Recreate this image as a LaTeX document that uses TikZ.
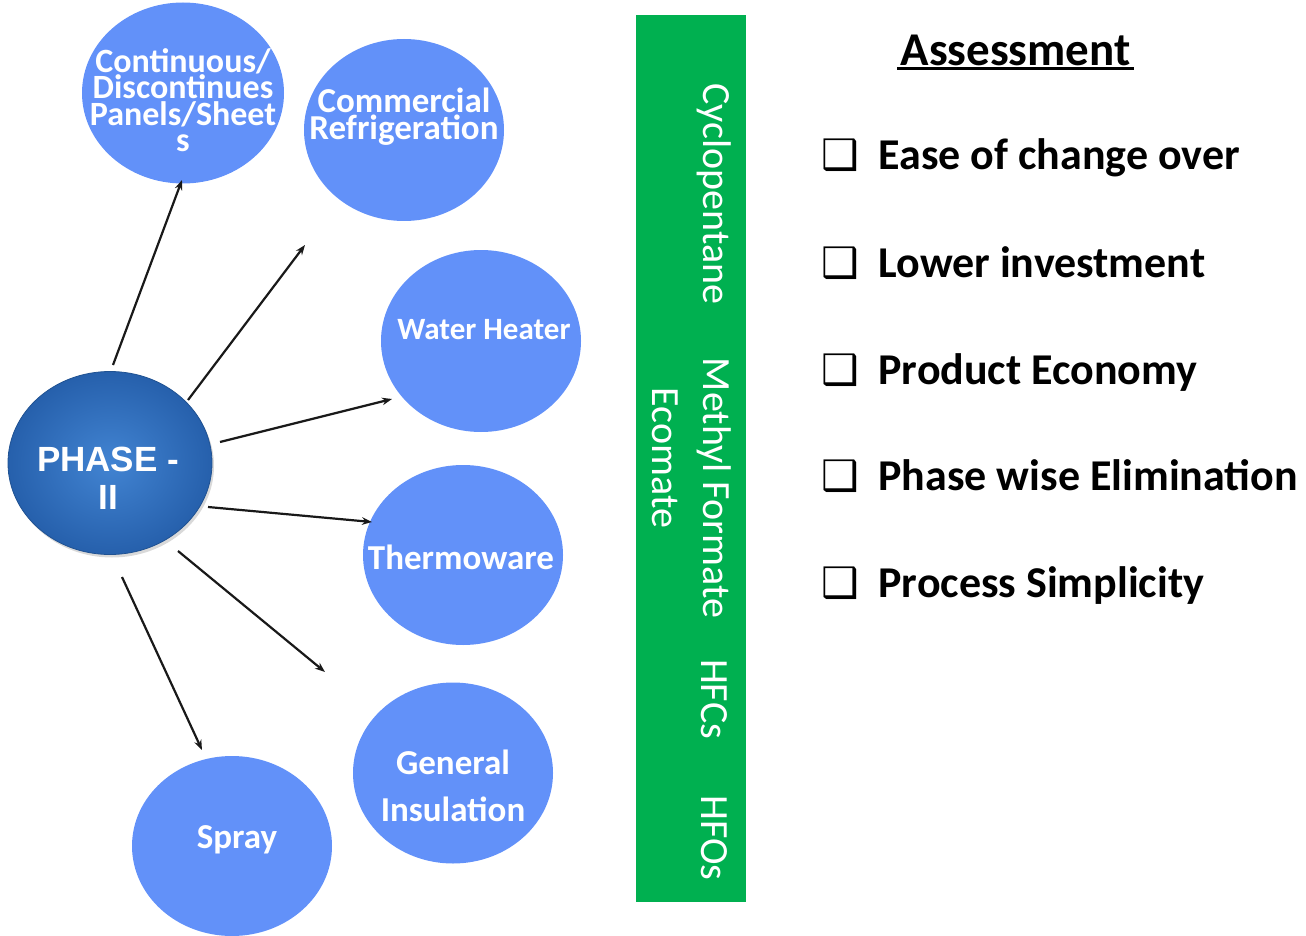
\documentclass[tikz,border=0pt]{standalone}
\usepackage{fontspec}
\setmainfont{Carlito}
\newfontfamily\arialfont{Liberation Sans}
\newfontfamily\dejavu{DejaVu Sans}
\usetikzlibrary{shapes.geometric,arrows.meta,shadows}
\definecolor{bubble}{RGB}{98,145,249}
\definecolor{barGreen}{RGB}{0,176,80}
\definecolor{phaseIn}{RGB}{66,132,210}
\definecolor{phaseOut}{RGB}{38,96,172}
\tikzset{
  bubblenode/.style={ellipse, fill=bubble, inner sep=0pt},
  bubbletext/.style={text=white, align=center, font=\bfseries\fontsize{35}{27}\selectfont},
  conn/.style={-{Stealth[length=10pt,width=7.5pt]}, line width=2.2pt, black!90},
  bartext/.style={text=white, rotate=-90, font=\fontsize{40}{44}\selectfont},
  itemtext/.style={anchor=base west, font=\bfseries\fontsize{44}{50}\selectfont},
  boxglyph/.style={anchor=base west, font=\dejavu\fontsize{42}{44}\selectfont}
}
\begin{document}
\begin{tikzpicture}[x=1pt,y=-1pt]
\useasboundingbox (0,0) rectangle (1306,936);
% bubbles
\node[bubblenode, minimum width=202pt, minimum height=181pt] (cont) at (183,93) {};
\node[bubbletext, font=\bfseries\fontsize{34}{26.5}\selectfont] (contT) at (183,100) {Continuous/\\Discontinues\\Panels/Sheet\\s};
\node[bubblenode, minimum width=200pt, minimum height=182pt] (comm) at (404,130) {};
\node[bubbletext] (commT) at (404,117) {Commercial\\Refrigeration};
\node[bubblenode, minimum width=200pt, minimum height=182pt] (water) at (481,341) {};
\node[bubbletext, font=\bfseries\fontsize{31}{36}\selectfont] (waterT) at (484,330) {Water Heater};
\node[bubblenode, minimum width=200pt, minimum height=180pt] (thermo) at (463,555) {};
\node[bubbletext] (thermoT) at (461,557) {Thermoware};
\node[bubblenode, minimum width=200pt, minimum height=181pt] (gen) at (453,773) {};
\node[bubbletext, font=\bfseries\fontsize{35}{47}\selectfont] (genT) at (453,786) {General\\Insulation};
\node[bubblenode, minimum width=200pt, minimum height=180pt] (spray) at (232,846) {};
\node[bubbletext] (sprayT) at (237,840) {Spray};
% phase node
\node[ellipse, minimum width=204pt, minimum height=183pt, inner sep=0pt,
      inner color=phaseIn, outer color=phaseOut, draw=phaseOut!85!black, line width=0.8pt,
      drop shadow={shadow xshift=2pt, shadow yshift=-3pt, opacity=0.3}] (phase) at (110,463) {};
\node[text=white, align=center, font=\arialfont\bfseries\fontsize{35}{38}\selectfont] (phaseT) at (108,478) {PHASE -\\II};
% connector end points
\coordinate (s1) at (113,365); \coordinate (e1) at (182,180);
\coordinate (s2) at (188,400); \coordinate (e2) at (305,245);
\coordinate (s3) at (220,442); \coordinate (e3) at (392,399);
\coordinate (s4) at (208,507); \coordinate (e4) at (372,522);
\coordinate (s5) at (178,551); \coordinate (e5) at (325,672);
\coordinate (s6) at (122,577); \coordinate (e6) at (202,750);
\draw[conn] (s1) -- (e1);
\draw[conn] (s2) -- (e2);
\draw[conn] (s3) -- (e3);
\draw[conn] (s4) -- (e4);
\draw[conn] (s5) -- (e5);
\draw[conn] (s6) -- (e6);
% green bar
\node[fill=barGreen, minimum width=110pt, minimum height=887pt, inner sep=0pt, anchor=north west] (bar) at (636,15) {};
\node[bartext] (cyclo) at (714,194) {Cyclopentane};
\node[bartext] (methyl) at (714,488) {Methyl Formate};
\node[bartext] (ecomate) at (665,458) {Ecomate};
\node[bartext] (hfcs) at (714,699) {HFCs};
\node[bartext] (hfos) at (714,838) {HFOs};
% assessment
\node[anchor=base west, font=\bfseries\fontsize{47}{50}\selectfont] (assess) at (897,66) {Assessment};
\draw[line width=2.8pt] (assess.south west) ++(0,-1) coordinate (ul1) -- (ul1 -| assess.south east);
\node[boxglyph] (b1) at (818,170) {❑};
\node[itemtext] (i1) at (875,170) {Ease of change over};
\node[boxglyph] (b2) at (818,277) {❑};
\node[itemtext] (i2) at (875,277) {Lower investment};
\node[boxglyph] (b3) at (818,384) {❑};
\node[itemtext] (i3) at (875,384) {Product Economy};
\node[boxglyph] (b4) at (818,490) {❑};
\node[itemtext] (i4) at (875,490) {Phase wise Elimination};
\node[boxglyph] (b5) at (818,597) {❑};
\node[itemtext] (i5) at (875,597) {Process Simplicity};
\end{tikzpicture}
\end{document}
